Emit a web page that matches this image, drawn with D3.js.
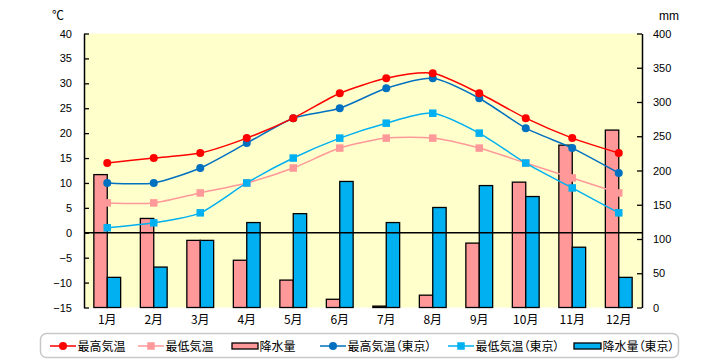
<!DOCTYPE html>
<html><head><meta charset="utf-8">
<script src="https://cdn.jsdelivr.net/npm/d3@7/dist/d3.min.js"></script>
<style>
body{margin:0;background:#fff;}
text{font-family:"Noto Sans CJK JP","Noto Sans",sans-serif;font-feature-settings:"palt";}
</style></head>
<body><svg id="c" width="720" height="360"></svg>
<script>
const months = ["1月","2月","3月","4月","5月","6月","7月","8月","9月","10月","11月","12月"];
const maxTemp = [14,15,16,19,23,28,31,32,28,23,19,16];
const minTemp = [6,6,8,10,13,17,19,19,17,14,11,8];
const rain = [194,130,98,69,40,12,2,18,94,183,237,259];
const maxTempTokyo = [10,10,13,18,23,25,29,31,27,21,17,12];
const minTempTokyo = [1,2,4,10,15,19,22,24,20,14,9,4];
const rainTokyo = [44,59,98,124,137,184,124,146,178,162,88,44];
const tempTicks = [-15,-10,-5,0,5,10,15,20,25,30,35,40];
const rainTicks = [0,50,100,150,200,250,300,350,400];
const legendLabels = ["最高気温","最低気温","降水量","最高気温（東京）","最低気温（東京）","降水量（東京）"];

const svg = d3.select("#c");
const L=84, R=642, T=33.5, B=307.5;
const x = d3.scaleBand().domain(months).range([L,R]);
const yT = d3.scaleLinear().domain([-15,40]).range([B,T]);
const yR = d3.scaleLinear().domain([0,400]).range([B,T]);
const cx = d => x(d)+x.bandwidth()/2;
const bw = 13.4;

svg.append("rect").attr("x",L).attr("y",T).attr("width",R-L).attr("height",B-T).attr("fill","#FFFFCC");

// bars
const g = svg.append("g");
g.selectAll(".b1").data(months).join("rect")
  .attr("x",d=>cx(d)-bw).attr("width",bw)
  .attr("y",(d,i)=>yR(rain[i])).attr("height",(d,i)=>B-yR(rain[i]))
  .attr("fill","#FF9999").attr("stroke","#000").attr("stroke-width",1.3);
g.selectAll(".b2").data(months).join("rect")
  .attr("x",d=>cx(d)).attr("width",bw)
  .attr("y",(d,i)=>yR(rainTokyo[i])).attr("height",(d,i)=>B-yR(rainTokyo[i]))
  .attr("fill","#00B0F0").attr("stroke","#000").attr("stroke-width",1.3);

// zero line
svg.append("line").attr("x1",L).attr("x2",R).attr("y1",yT(0)).attr("y2",yT(0)).attr("stroke","#000").attr("stroke-width",1.3);

// axes
const axL = d3.axisLeft(yT).tickValues(tempTicks).tickSizeInner(-5).tickSizeOuter(0).tickPadding(12);
const gl = svg.append("g").attr("transform",`translate(${L},0)`).call(axL);
const axR = d3.axisRight(yR).tickValues(rainTicks).tickSizeInner(-5).tickSizeOuter(0).tickPadding(11);
const gr = svg.append("g").attr("transform",`translate(${R},0)`).call(axR);
[gl,gr].forEach(a=>{
  a.select(".domain").attr("stroke","#000").attr("stroke-width",1.5);
  a.selectAll(".tick line").attr("stroke","#000").attr("stroke-width",1.3);
  a.selectAll(".tick text").attr("fill","#000").style("font-size","11px").style("font-family","'Liberation Sans',sans-serif");
});

// category labels
svg.selectAll(".cat").data(months).join("text")
  .attr("x",d=>cx(d)).attr("y",324).attr("text-anchor","middle")
  .style("font-size","12px").attr("fill","#000").text(d=>d);

svg.append("text").attr("x",58).attr("y",20).attr("text-anchor","middle").style("font-size","12px").text("℃");
svg.append("text").attr("x",669).attr("y",20).attr("text-anchor","middle").style("font-size","12px").style("font-family","'Liberation Sans',sans-serif").text("mm");

// lines
const series = [
  {v:minTemp, c:"#FF9999", m:"sq"},
  {v:minTempTokyo, c:"#00B0F0", m:"sq"},
  {v:maxTempTokyo, c:"#0070C0", m:"ci"},
  {v:maxTemp, c:"#FF0000", m:"ci"}
];
const line = d3.line().x((d,i)=>cx(months[i])).y(d=>yT(d)).curve(d3.curveCardinal.tension(0.3));
series.forEach(s=>{
  svg.append("path").attr("d",line(s.v)).attr("fill","none").attr("stroke",s.c).attr("stroke-width",1.5);
  if(s.m==="ci"){
    svg.selectAll(null).data(s.v).join("circle").attr("cx",(d,i)=>cx(months[i])).attr("cy",d=>yT(d)).attr("r",4).attr("fill",s.c);
  } else {
    svg.selectAll(null).data(s.v).join("rect").attr("x",(d,i)=>cx(months[i])-3.75).attr("y",d=>yT(d)-3.75).attr("width",7.5).attr("height",7.5).attr("fill",s.c);
  }
});

// legend
svg.append("rect").attr("x",40.5).attr("y",333.5).attr("width",638).attr("height",24).attr("rx",6)
  .attr("fill","#fff").attr("stroke","#C8C8C8").attr("stroke-width",1.5);
const ly = 346;
const items = [
  {t:"line", m:"ci", c:"#FF0000", x0:50, x1:76},
  {t:"line", m:"sq", c:"#FF9999", x0:138, x1:164},
  {t:"bar", c:"#FF9999", x0:232, x1:258},
  {t:"line", m:"ci", c:"#0070C0", x0:320, x1:346},
  {t:"line", m:"sq", c:"#00B0F0", x0:448, x1:474},
  {t:"bar", c:"#00B0F0", x0:574, x1:601}
];
items.forEach((it,i)=>{
  if(it.t==="line"){
    svg.append("line").attr("x1",it.x0).attr("x2",it.x1).attr("y1",ly).attr("y2",ly).attr("stroke",it.c).attr("stroke-width",1.5);
    const m=(it.x0+it.x1)/2;
    if(it.m==="ci") svg.append("circle").attr("cx",m).attr("cy",ly).attr("r",4).attr("fill",it.c);
    else svg.append("rect").attr("x",m-3.75).attr("y",ly-3.75).attr("width",7.5).attr("height",7.5).attr("fill",it.c);
  } else {
    svg.append("rect").attr("x",it.x0).attr("y",ly-3).attr("width",it.x1-it.x0).attr("height",6).attr("fill",it.c).attr("stroke","#000").attr("stroke-width",1.3);
  }
  svg.append("text").attr("x",it.x1+1.5).attr("y",ly+4.5).style("font-size","12px").attr("fill","#000").text(legendLabels[i]);
});
</script></body></html>
